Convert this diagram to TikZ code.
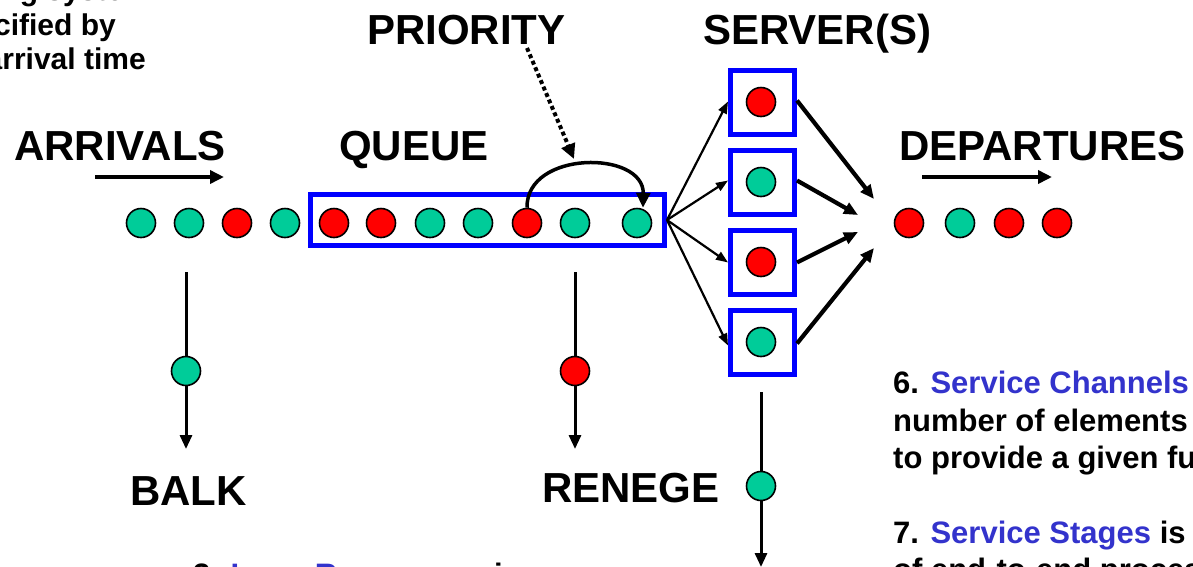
\documentclass[tikz,border=0pt]{standalone}
\usepackage{fontspec}
\setmainfont{Liberation Sans}
\usetikzlibrary{arrows.meta}
\definecolor{grn}{RGB}{0,204,153}
\definecolor{rd}{RGB}{255,0,0}
\definecolor{bx}{RGB}{0,0,255}
\definecolor{btxt}{RGB}{51,51,204}
\begin{document}
\begin{tikzpicture}[x=1pt,y=-1pt,
  ball/.style={circle,draw=black,line width=1.6pt,minimum size=29pt,inner sep=0pt},
  gb/.style={ball,fill=grn},
  rb/.style={ball,fill=rd},
  bluebox/.style={draw=bx,line width=5pt,inner sep=0pt},
  big/.style={font=\fontsize{42}{48}\selectfont\bfseries,inner sep=0pt,anchor=base west},
  note/.style={font=\fontsize{30}{34}\selectfont\bfseries,inner sep=0pt},
  body/.style={font=\fontsize{31}{37}\selectfont\bfseries,inner sep=0pt,anchor=base west},
  flow/.style={line width=4pt,-{Triangle[length=14pt,width=13pt]}},
  fan/.style={line width=2.2pt,-{Triangle[length=12pt,width=9pt]}},
  outarr/.style={line width=4.2pt,-{Triangle[length=14pt,width=12pt]}},
  drop/.style={line width=3pt,-{Triangle[length=14pt,width=12pt]}},
  prio/.style={line width=3.5pt,-{Triangle[length=15pt,width=14pt]}},
  dots/.style={line width=4pt,dash pattern=on 4pt off 3pt,-{Triangle[length=15pt,width=14pt]}}
]
\useasboundingbox (0,0) rectangle (1193,566);

% top-left note (cropped)
\node[note,anchor=base east] (n1) at (150,0) {Queueing system};
\node[note,anchor=base east] (n2) at (116,35) {specified by};
\node[note,anchor=base east] (n3) at (146,69) {arrival time};

% labels
\node[big] (larr) at (14,160) {ARRIVALS};
\node[big] (lque) at (339,160) {QUEUE};
\node[big] (lpri) at (367,44) {PRIORITY};
\node[big] (lser) at (703,44) {SERVER(S)};
\node[big] (ldep) at (899,160) {DEPARTURES};
\node[big] (lbalk) at (130,505) {BALK};
\node[big] (lren) at (542,502) {RENEGE};

% flow arrows
\coordinate (aa1) at (95,177);
\coordinate (aa2) at (224,177);
\draw[flow] (aa1) -- (aa2);
\coordinate (da1) at (922,177);
\coordinate (da2) at (1052,177);
\draw[flow] (da1) -- (da2);

% queue box
\node[bluebox,minimum width=354pt,minimum height=51pt] (qbox) at (487.5,220) {};

% arriving customers
\node[gb] (a1) at (141,223) {};
\node[gb] (a2) at (189,223) {};
\node[rb] (a3) at (237,223) {};
\node[gb] (a4) at (285,223) {};

% queue
\node[rb] (q1) at (334,223) {};
\node[rb] (q2) at (381,223) {};
\node[gb] (q3) at (430,223) {};
\node[gb] (q4) at (478,223) {};
\node[rb] (q5) at (527,223) {};
\node[gb] (q6) at (575,223) {};
\node[gb] (q7) at (637,223) {};

% priority
\draw[prio] (q5.north) .. controls (526,150) and (644,150) .. ([xshift=6pt]q7.north);
\coordinate (pd1) at (527,48);
\coordinate (pd2) at (574,159);
\draw[dots] (pd1) -- (pd2);

% servers
\node[bluebox,minimum size=64pt] (s1) at (762.5,102.5) {};
\node[bluebox,minimum size=64pt] (s2) at (762.5,182.5) {};
\node[bluebox,minimum size=64pt] (s3) at (762.5,262.5) {};
\node[bluebox,minimum size=64pt] (s4) at (762.5,342.5) {};
\node[rb] (c1) at (761,102) {};
\node[gb] (c2) at (761,182) {};
\node[rb] (c3) at (761,262) {};
\node[gb] (c4) at (761,342) {};

\draw[fan] (qbox.east) -- ([yshift=1pt]s1.west);
\draw[fan] (qbox.east) -- ([yshift=2pt]s2.west);
\draw[fan] (qbox.east) -- (s3.west);
\draw[fan] (qbox.east) -- ([yshift=-3pt]s4.west);

\coordinate (d1) at (874,199);
\coordinate (d2) at (858,215);
\coordinate (d3) at (858,232);
\coordinate (d4) at (874,248);
\draw[outarr] ([yshift=2pt]s1.east) -- (d1);
\draw[outarr] ([yshift=2pt]s2.east) -- (d2);
\draw[outarr] (s3.east) -- (d3);
\draw[outarr] ([yshift=-1pt]s4.east) -- (d4);

% departures
\node[rb] (e1) at (909,223) {};
\node[gb] (e2) at (960,223) {};
\node[rb] (e3) at (1009,223) {};
\node[rb] (e4) at (1057,223) {};

% balk
\coordinate (b1) at (186,272);
\coordinate (b2) at (186,449);
\draw[drop] (b1) -- (b2);
\node[gb] (bc) at (186,371) {};

% renege
\coordinate (r1) at (575,272);
\coordinate (r2) at (575,449);
\draw[drop] (r1) -- (r2);
\node[rb] (rc) at (575,371) {};

% service exit
\coordinate (x1) at (761,392);
\coordinate (x2) at (761,567);
\draw[drop] (x1) -- (x2);
\node[gb] (xc) at (761,486) {};

% right text (cropped)
\node[body] (t1) at (893,393) {6. \textcolor{btxt}{Service Channels}};
\node[body] (t2) at (893,431) {number of elements};
\node[body] (t3) at (893,468) {to provide a given function};
\node[body] (t4) at (893,543) {7. \textcolor{btxt}{Service Stages} is};
\node[body] (t5) at (893,580) {of end-to-end processing};

% bottom text (cropped)
\node[body] (t6) at (193,585) {3. \textcolor{btxt}{Long Runs} occur in queues};
\end{tikzpicture}
\end{document}
